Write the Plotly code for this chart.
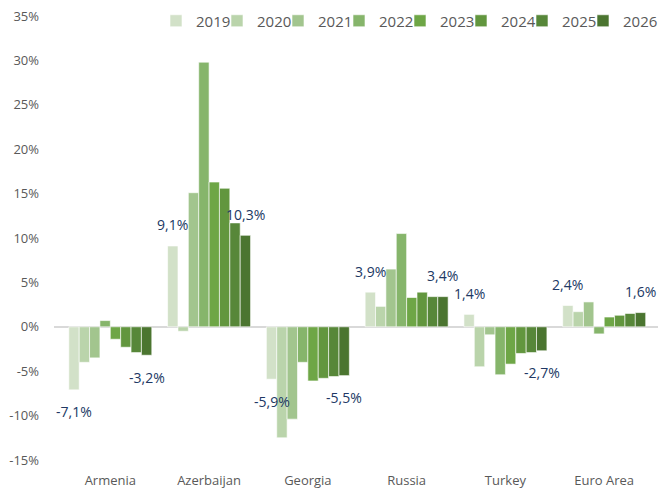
import plotly.graph_objects as go

categories = ["Armenia", "Azerbaijan", "Georgia", "Russia", "Turkey", "Euro Area"]
years = ["2019", "2020", "2021", "2022", "2023", "2024", "2025", "2026"]

v2019 = [-7.1, 9.1, -5.9, 3.9, 1.4, 2.4]
v2020 = [-4.0, -0.5, -12.5, 2.3, -4.5, 1.7]
v2021 = [-3.5, 15.1, -10.4, 6.5, -0.9, 2.8]
v2022 = [0.7, 29.8, -4.0, 10.5, -5.4, -0.8]
v2023 = [-1.4, 16.3, -6.1, 3.3, -4.2, 1.1]
v2024 = [-2.3, 15.6, -5.8, 3.9, -3.0, 1.3]
v2025 = [-2.9, 11.7, -5.6, 3.4, -2.9, 1.5]
v2026 = [-3.2, 10.3, -5.5, 3.4, -2.7, 1.6]

series = [v2019, v2020, v2021, v2022, v2023, v2024, v2025, v2026]
colors = ["#d2e1c8", "#bad4ab", "#a2c58e", "#86b56b", "#6ea646", "#62963e", "#578739", "#4b7530"]
labeled_years = ["2019", "2026"]

ytick_vals = [-15, -10, -5, 0, 5, 10, 15, 20, 25, 30, 35]
ytick_text = [f"{v}%" for v in ytick_vals]

FONT = "Open Sans"
BARGAP = 0.16
W, H = 660, 490
ML, MR, MT, MB = 54, 2, 16, 30
PLOT_W = W - ML - MR

fig = go.Figure()
legend_ids = ["legend" if k == 0 else f"legend{k + 1}" for k in range(len(years))]
for yr, vals, col, lid in zip(years, series, colors, legend_ids):
    fig.add_trace(go.Bar(
        name=yr, x=categories, y=vals, legend=lid,
        marker=dict(color=col, line=dict(color="white", width=0.6)),
    ))

# data labels for first and last series
n = len(years)
bw = (1 - BARGAP) / n
for yr in labeled_years:
    k = years.index(yr)
    vals = series[k]
    off = (k - (n - 1) / 2) * bw
    for i, v in enumerate(vals):
        fig.add_annotation(
            x=i + off, y=v, xref="x", yref="y",
            text=f"{v:.1f}%".replace(".", ","),
            showarrow=False, yanchor="middle",
            yshift=21 if v >= 0 else -22,
            font=dict(family=FONT, size=14, color="#203864"),
        )

# one single-entry legend per series, laid out in a row (compact spacing)
LEG_START, LEG_STEP = 156, 61
legends = {}
for k, lid in enumerate(legend_ids):
    legends[lid] = dict(
        orientation="h", x=(LEG_START + k * LEG_STEP - ML) / PLOT_W, xanchor="left",
        y=0.9887, yanchor="middle",
        font=dict(family=FONT, size=15, color="#595959"),
        bgcolor="rgba(0,0,0,0)", itemwidth=30,
    )

fig.update_layout(
    width=W, height=H,
    margin=dict(l=ML, r=MR, t=MT, b=MB, autoexpand=False),
    plot_bgcolor="white", paper_bgcolor="white",
    barmode="group", bargap=BARGAP, bargroupgap=0,
    font=dict(family=FONT, color="#595959"),
    showlegend=True,
    xaxis=dict(
        showgrid=False, showline=False, zeroline=False,
        tickfont=dict(family=FONT, size=13, color="#595959"),
        ticks="", ticklabelstandoff=11,
    ),
    yaxis=dict(
        range=[-15, 35], tickmode="array", tickvals=ytick_vals, ticktext=ytick_text,
        showgrid=False, showline=False,
        zeroline=True, zerolinecolor="#d9d9d9", zerolinewidth=2,
        tickfont=dict(family=FONT, size=13, color="#595959"),
        ticks="", ticklabelstandoff=14,
    ),
    **legends,
)

fig.write_html("out.html")
